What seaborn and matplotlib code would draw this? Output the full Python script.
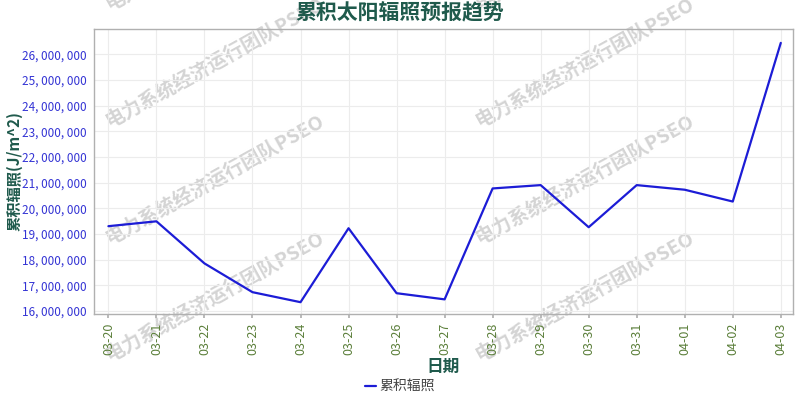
import matplotlib
matplotlib.use("Agg")
import matplotlib.pyplot as plt
import seaborn as sns
import pandas as pd
from matplotlib.ticker import FuncFormatter, MultipleLocator

dates = ["03-20", "03-21", "03-22", "03-23", "03-24", "03-25", "03-26", "03-27",
         "03-28", "03-29", "03-30", "03-31", "04-01", "04-02", "04-03"]
values = [19300000, 19490000, 17850000, 16730000, 16340000, 19220000, 16690000, 16450000,
          20770000, 20900000, 19260000, 20900000, 20720000, 20260000, 26440000]
series_name = "累积辐照"
title = "累积太阳辐照预报趋势"
xlabel = "日期"
ylabel = "累积辐照(J/m^2)"
watermark = "电力系统经济运行团队PSEO"

sns.set_theme(style="whitegrid")
plt.rcParams['font.family'] = ['Noto Sans CJK SC', 'DejaVu Sans']
plt.rcParams['axes.unicode_minus'] = False

df = pd.DataFrame({"date": dates, "value": values, "series": series_name})

fig = plt.figure(figsize=(8, 4), dpi=100)
ax = fig.add_axes([0.1175, 0.215, 0.8735, 0.7125])
ax.patch.set_alpha(0)

sns.lineplot(data=df, x="date", y="value", hue="series", palette=["#1c1cd6"],
             linewidth=1.6, ax=ax, sort=False, legend=True)

ax.set_xlim(-0.3, len(dates) - 1 + 0.25)
ax.set_ylim(15880000, 26980000)
ax.yaxis.set_major_locator(MultipleLocator(1000000))
ax.yaxis.set_major_formatter(FuncFormatter(lambda v, p: f"{int(round(v)):,}".replace(",", ", ")))

ax.grid(True, color="#ececec", linewidth=0.8)
for s in ax.spines.values():
    s.set_color("#b0b0b0")
    s.set_linewidth(1.0)

ax.tick_params(axis="y", labelcolor="#3434d4", labelsize=8.5, length=0, pad=5)
ax.tick_params(axis="x", labelcolor="#5b7f3a", labelsize=9, length=3, color="#b0b0b0",
               rotation=90, pad=3)
ax.tick_params(bottom=True)

ax.set_xlabel(xlabel, fontsize=12, fontweight="bold", color="#1f5a4c", labelpad=2)
ax.set_ylabel(ylabel, fontsize=11, fontweight="bold", color="#1f5a4c")
ax.yaxis.set_label_coords(-0.1025, 0.5)
fig.text(0.5, 0.968, title, ha="center", va="center", fontsize=15,
         fontweight="bold", color="#1f5a4c")

handles, labels = ax.get_legend_handles_labels()
ax.legend_.remove()
fig.legend(handles, labels, loc="center", bbox_to_anchor=(0.5, 0.032), frameon=False,
           handlelength=0.8, handletextpad=0.2, fontsize=10, labelcolor="#444444")

# watermark tiles
for xs in (110, 480):
    for ys in (10, 127, 244, 361):
        fig.text(xs / 800, 1 - ys / 400, watermark, rotation=29, rotation_mode="anchor",
                 ha="left", va="baseline", fontsize=14, fontweight="bold",
                 color="#d4d4d4", zorder=-1)

fig.savefig("out.png", dpi=100)
